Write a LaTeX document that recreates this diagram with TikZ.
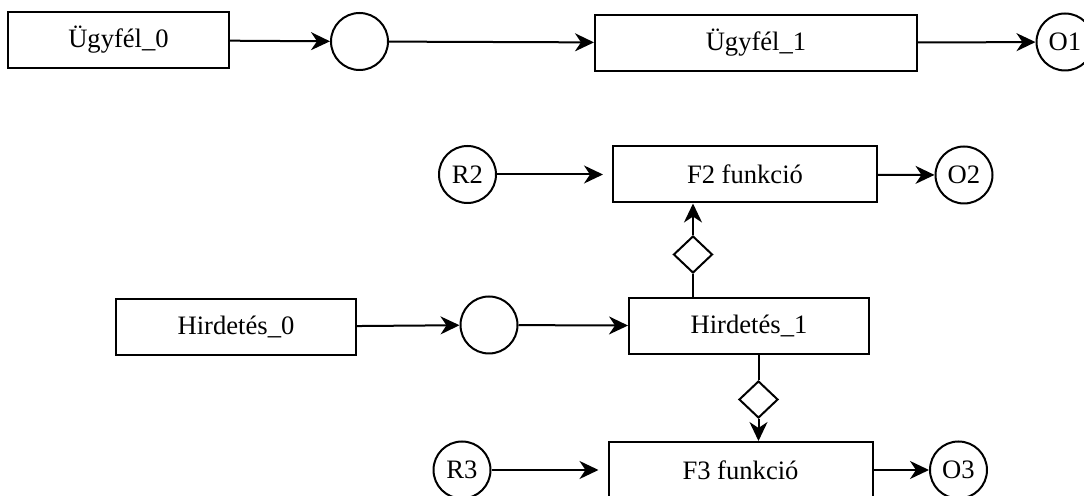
\documentclass[tikz,border=0pt]{standalone}
\usepackage{fontspec}
\setmainfont{Liberation Serif}
\usetikzlibrary{arrows.meta,shapes.geometric}
\begin{document}
\begin{tikzpicture}[x=.5pt,y=-.5pt,line width=1pt,font=\fontsize{13.3}{16}\selectfont,
  box/.style={draw,minimum width=#1,minimum height=28pt,inner sep=0},
  ball/.style={draw,circle,minimum size=28.5pt,inner sep=0},
  gate/.style={draw,diamond,minimum width=19.5pt,minimum height=18.5pt,inner sep=0},
  >={Stealth[length=9.5pt,width=9pt,inset=3pt]}]
  \clip(0,0)rectangle(1084,496);
  \node[box=110.5pt](u0)at(118.5,40){Ügyfél\_0};
  \node[ball](c0)at(359.5,41.5){};
  \node[box=161pt](u1)at(756,43){Ügyfél\_1};
  \node[ball](o1)at(1065,42){O1};
  \node[ball](r2)at(467.5,174.5){R2};
  \node[box=132pt](f2)at(745,174.5){F2 funkció};
  \node[ball](o2)at(964,175){O2};
  \node[gate](d2)at(693,254.5){};
  \node[box=120pt](h0)at(236,327){Hirdetés\_0};
  \node[ball](c1)at(489,325){};
  \node[box=120pt](h1)at(749,326){Hirdetés\_1};
  \node[gate](d3)at(758.5,399.5){};
  \node[ball](r3)at(462,470){R3};
  \node[box=132pt](f3)at(740.5,470){F3 funkció};
  \node[ball](o3)at(958.5,470){O3};
  \draw[->](u0)--(c0);
  \draw[->](c0)--(u1);
  \draw[->](u1)--(o1);
  \draw[->,shorten >=4.5pt](r2)--(f2);
  \draw[->](f2)--(o2);
  \draw(d2)--(d2|-h1.north);
  \draw[->](d2)--(d2|-f2.south);
  \draw[->](h0)--(c1);
  \draw[->](c1)--(h1);
  \draw(d3|-h1.south)--(d3);
  \draw[->](d3)--(d3|-f3.north);
  \draw[->,shorten >=4.5pt](r3)--(f3);
  \draw[->](f3)--(o3);
\end{tikzpicture}
\end{document}
